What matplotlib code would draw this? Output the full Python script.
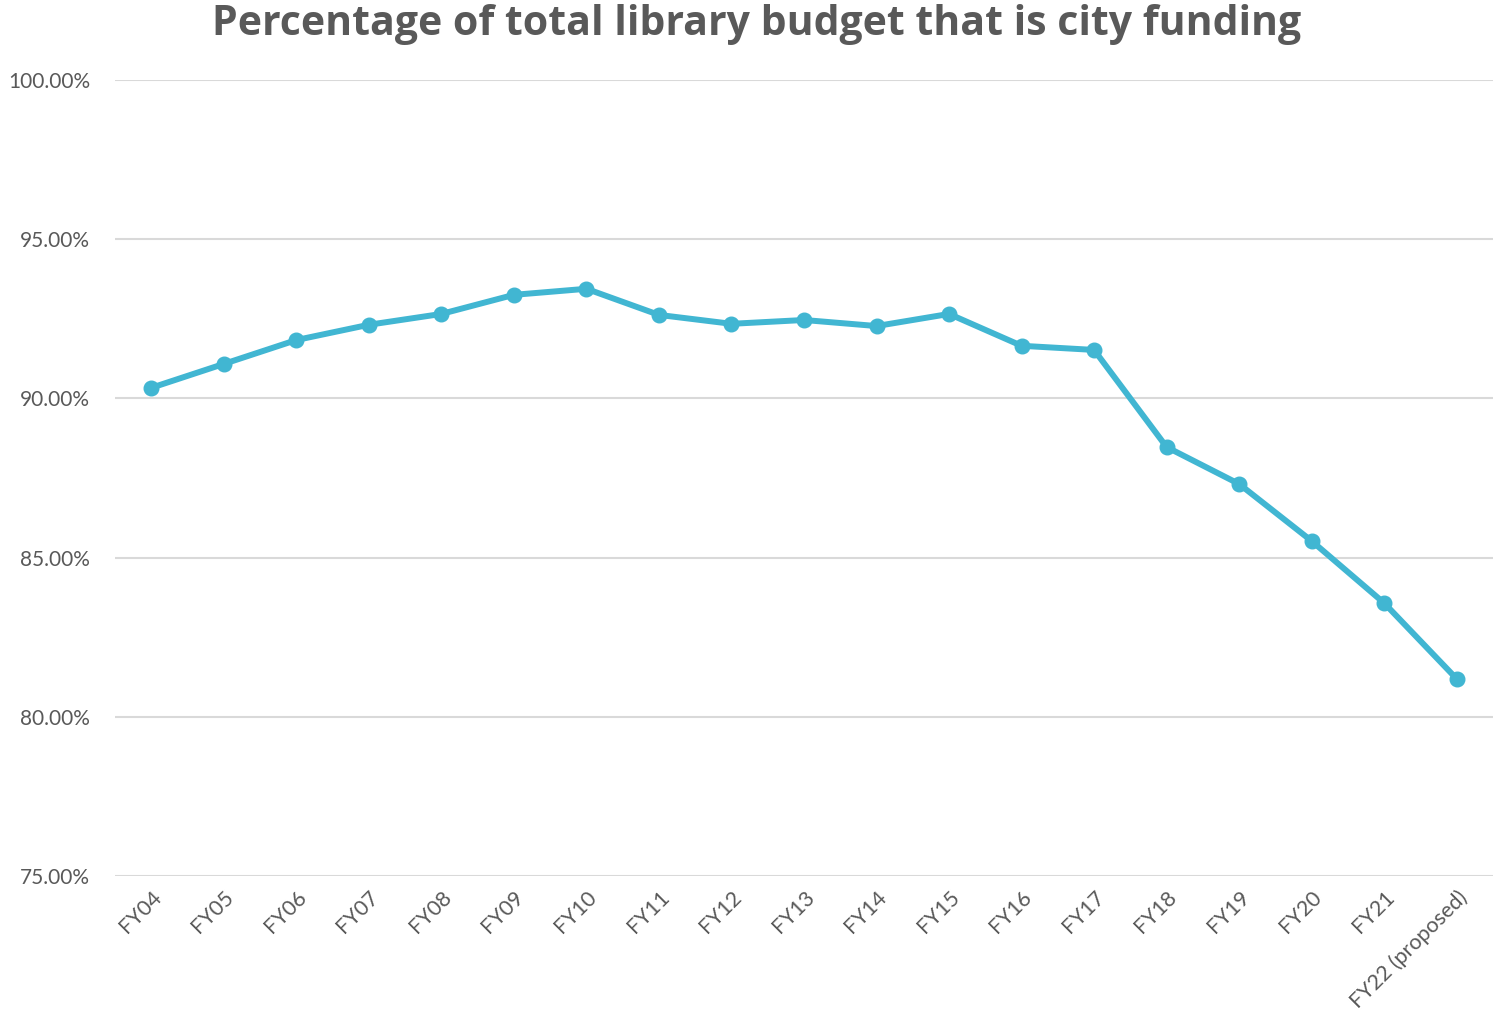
import matplotlib
matplotlib.use("Agg")
import matplotlib.pyplot as plt
from matplotlib.ticker import FuncFormatter, MultipleLocator

categories = ["FY04", "FY05", "FY06", "FY07", "FY08", "FY09", "FY10", "FY11", "FY12",
              "FY13", "FY14", "FY15", "FY16", "FY17", "FY18", "FY19", "FY20", "FY21",
              "FY22 (proposed)"]
city_share = [90.33, 91.08, 91.83, 92.31, 92.65, 93.25, 93.44, 92.62, 92.34,
              92.46, 92.27, 92.65, 91.65, 91.52, 88.47, 87.31, 85.52, 83.57, 81.19]

fig = plt.figure(figsize=(14.93, 10.24), dpi=100)
ax = fig.add_axes([0.077, 0.1445, 0.923, 0.7775])

x = list(range(len(categories)))
ax.plot(x, city_share, color="#41B6D2", linewidth=4.3, marker="o", markersize=10.5,
        solid_capstyle="round", zorder=3)

ax.set_xlim(-0.5, len(categories) - 0.5)
ax.set_ylim(75, 100)
ax.yaxis.set_major_locator(MultipleLocator(5))
ax.yaxis.set_major_formatter(FuncFormatter(lambda v, p: f"{v:.2f}%"))
ax.grid(axis="y", color="#D9D9D9", linewidth=1.5)
ax.set_axisbelow(True)
for s in ax.spines.values():
    s.set_visible(False)
ax.tick_params(axis="y", length=0, labelsize=15, colors="#595959", pad=18)
ax.tick_params(axis="x", length=0, labelsize=15.5, colors="#595959", pad=8)
ax.set_xticks(x)
ax.set_xticklabels(categories, rotation=45, ha="right", va="top", rotation_mode="anchor",
                   family="Lato")
for lab in ax.get_xticklabels():
    lab.set_x(lab.get_position()[0])
for lab in ax.get_yticklabels():
    lab.set_family("Lato")

fig.suptitle("Percentage of total library budget that is city funding", x=0.507, y=0.996,
             va="top", fontsize=29.5, fontweight="bold", color="#595959", family="Open Sans")

fig.savefig("out.png", dpi=100)
